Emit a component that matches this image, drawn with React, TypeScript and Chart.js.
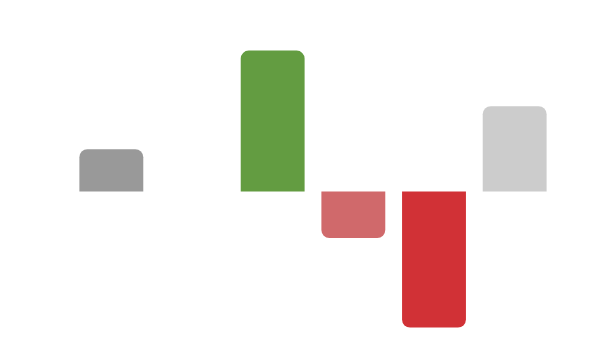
import React, { useEffect, useRef } from "react";
import { Chart, registerables } from "chart.js";

Chart.register(...registerables);

const categories = ["A", "B", "C", "D", "E", "F"];
const values = [3, 0, 10, -3.3, -9.65, 6.05];
const colors = ["#999999", "#999999", "#639c41", "#d0696b", "#d13136", "#cccccc"];

export default function App() {
  const ref = useRef<HTMLCanvasElement>(null);
  useEffect(() => {
    if (!ref.current) return;
    const chart = new Chart(ref.current, {
      type: "bar",
      data: {
        labels: categories,
        datasets: [
          {
            data: values,
            backgroundColor: colors,
            borderRadius: 8,
            borderSkipped: "start",
            barPercentage: 0.99,
            categoryPercentage: 0.8,
          },
        ],
      },
      options: {
        responsive: false,
        animation: false,
        layout: { padding: { left: 71, right: 45, top: 36.5, bottom: 11.5 } },
        plugins: { legend: { display: false }, tooltip: { enabled: false } },
        scales: {
          x: { display: false, offset: true },
          y: { display: false, min: -11, max: 11 },
        },
      },
    });
    return () => chart.destroy();
  }, []);
  return (
    <div style={{ position: "absolute", left: 0, top: 0, width: 600, height: 358, background: "#fff" }}>
      <canvas ref={ref} width={600} height={358} />
    </div>
  );
}
